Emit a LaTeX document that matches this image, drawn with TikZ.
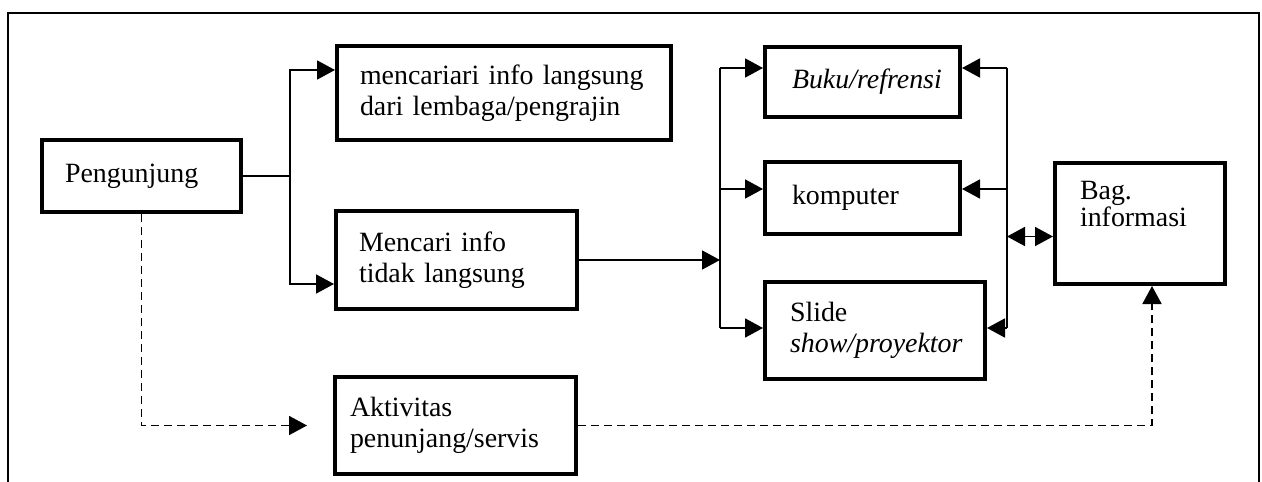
\documentclass[tikz,border=0pt]{standalone}
\usepackage{fontspec}
\setmainfont{Liberation Serif}
\usetikzlibrary{arrows.meta,calc}

\begin{document}
\begin{tikzpicture}[x=1bp, y=-1bp,
    font=\fontsize{28}{31}\selectfont,
    box/.style={draw, line width=4bp, anchor=north west, align=left, inner xsep=23bp, inner ysep=0pt},
    link/.style={line width=1.8bp},
    arr/.style={link, -{Triangle[length=18bp,width=19bp]}},
    dblarr/.style={link, {Triangle[length=18bp,width=19bp]}-{Triangle[length=18bp,width=19bp]}},
    dasharr/.style={arr, dash pattern=on 8bp off 5bp}]
    \useasboundingbox (0,0) rectangle (1262,482);

    % Frame
    \draw [line width=1.5bp] (8,482) -- (8,13) -- (1259,13) -- (1259,482);

    % Visitor and ways of searching
    \node [box, text width=153bp, minimum height=72bp] (peng) at (40,138) {Pengunjung};
    \node [box, text width=288bp, minimum height=94bp] (lang) at (335,44) {mencariari info langsung\\dari lembaga/pengrajin};
    \node [box, text width=195bp, minimum height=98bp] (tdk) at (334,209) {Mencari info\\tidak langsung};
    \node [box, inner xsep=15bp, text width=211bp, minimum height=97bp] (akt) at (333,375) {Aktivitas\\penunjang/servis};

    % Media
    \node [box, inner xsep=27bp, text width=141bp, minimum height=70bp] (buku) at (763,45) {\itshape Buku/refrensi};
    \node [box, inner xsep=27bp, text width=141bp, minimum height=72bp] (komp) at (763,160) {komputer};
    \node [box, inner xsep=25bp, text width=170bp, minimum height=97bp] (slide) at (763,280) {Slide\\\itshape show/proyektor};
    \node [box, inner xsep=25bp, text width=120bp, minimum height=121bp, font=\fontsize{28}{27}\selectfont] (bag) at (1053,161) {Bag.\\informasi\\[12bp]\mbox{}};

    % Bus points
    \coordinate (splitA) at ([xshift=47bp]peng.east);
    \coordinate (busLtop) at (720,68); \coordinate (busLbot) at (720,328);
    \coordinate (busRtop) at (1007,68); \coordinate (busRbot) at (1007,328);

    % Pengunjung split
    \draw [link] (peng.east) -- (splitA);
    \draw [arr] (splitA) |- ([yshift=23bp]lang.west);
    \draw [arr] (splitA) |- ([yshift=-24bp]tdk.west);

    % Left bus to media
    \draw [arr] (tdk.east) -- (tdk.east -| busLtop);
    \draw [link] (busLtop) -- (busLbot);
    \draw [arr] (busLtop) -- (busLtop -| buku.west);
    \draw [arr] ([yshift=9bp]komp.west -| busLtop) -- ([yshift=9bp]komp.west);
    \draw [arr] (busLbot) -- (busLbot -| slide.west);

    % Right bus from Bag. informasi
    \draw [link] (busRtop) -- (busRbot);
    \draw [arr] (busRtop) -- (busRtop -| buku.east);
    \draw [arr] ([yshift=9bp]komp.east -| busRtop) -- ([yshift=9bp]komp.east);
    \draw [arr] (busRbot) -- (busRbot -| slide.east);
    \draw [dblarr] ([yshift=-13bp]bag.west -| busRtop) -- ([yshift=-13bp]bag.west);

    % Dashed service path
    \draw [dasharr] (peng.south) |- ([xshift=-26bp]akt.west);
    \draw [dasharr] (akt.east) -| ([xshift=12bp]bag.south);
\end{tikzpicture}
\end{document}
